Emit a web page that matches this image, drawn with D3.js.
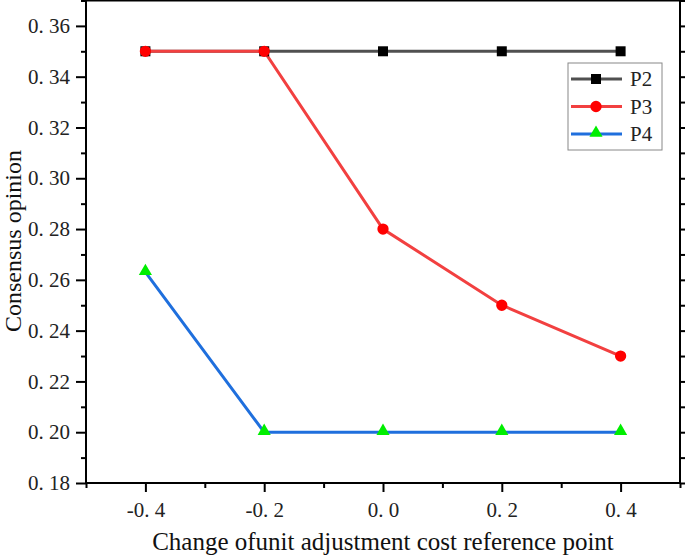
<!DOCTYPE html>
<html><head><meta charset="utf-8">
<script src="https://cdn.jsdelivr.net/npm/d3@7"></script>
<style>body{margin:0;background:#fff}svg{display:block}text{font-family:"Liberation Serif","DejaVu Serif",serif}</style>
</head><body>
<script>
const xValues = [-0.4, -0.2, 0.0, 0.2, 0.4];
const p2 = [0.35, 0.35, 0.35, 0.35, 0.35];
const p3 = [0.35, 0.35, 0.28, 0.25, 0.23];
const p4 = [0.263, 0.20, 0.20, 0.20, 0.20];
const seriesNames = ["P2", "P3", "P4"];
const xTicks = [-0.4, -0.2, 0.0, 0.2, 0.4];
const xTickLabels = ["-0. 4", "-0. 2", "0. 0", "0. 2", "0. 4"];
const yTicks = [0.18, 0.20, 0.22, 0.24, 0.26, 0.28, 0.30, 0.32, 0.34, 0.36];
const yTickLabels = ["0. 18", "0. 20", "0. 22", "0. 24", "0. 26", "0. 28", "0. 30", "0. 32", "0. 34", "0. 36"];
const xTitle = "Change ofunit adjustment cost reference point";
const yTitle = "Consensus opinion";

const W = 685, H = 557;
const L = 86, R = 680, T = 0.5, B = 483;
const x = d3.scaleLinear().domain([-0.5, 0.5]).range([L, R]);
const y = d3.scaleLinear().domain([0.18, 0.37]).range([B, T]);

const svg = d3.select("body").append("svg").attr("width", W).attr("height", H);

const xMinor = d3.range(-0.5, 0.51, 0.1).map(v => +v.toFixed(2)).filter(v => !xTicks.some(t => Math.abs(t - v) < 1e-9));
const yMinor = d3.range(0.19, 0.371, 0.02).map(v => +v.toFixed(2));

const tickStyle = g => { g.select(".domain").remove(); g.selectAll("line").attr("stroke", "#000").attr("stroke-width", 2); };

svg.append("g").attr("transform", `translate(0,${B})`)
  .call(d3.axisBottom(x).tickValues(xMinor).tickSize(5).tickFormat(""))
  .call(tickStyle);
svg.append("g").attr("transform", `translate(0,${B})`)
  .call(d3.axisBottom(x).tickValues(xTicks).tickSize(9).tickPadding(10).tickFormat((d, i) => xTickLabels[i]))
  .call(tickStyle)
  .call(g => g.selectAll("text").attr("font-size", 21).attr("fill", "#222"));

svg.append("g").attr("transform", `translate(${L},0)`)
  .call(d3.axisLeft(y).tickValues(yMinor).tickSize(5).tickFormat(""))
  .call(tickStyle);
svg.append("g").attr("transform", `translate(${L},0)`)
  .call(d3.axisLeft(y).tickValues(yTicks).tickSize(10).tickPadding(6).tickFormat((d, i) => yTickLabels[i]))
  .call(tickStyle)
  .call(g => g.selectAll("text").attr("font-size", 21).attr("fill", "#222"));

svg.append("g").attr("transform", `translate(${R},0)`)
  .call(d3.axisRight(y).tickValues(yTicks.concat(yMinor)).tickSize(6).tickFormat(""))
  .call(tickStyle);

svg.append("rect").attr("x", L).attr("y", T).attr("width", R - L).attr("height", B - T)
  .attr("fill", "none").attr("stroke", "#000").attr("stroke-width", 2);

const series = [
  {name: "P2", vals: p2, line: "#505050", mk: "#000", shape: d3.symbolSquare, size: 100},
  {name: "P3", vals: p3, line: "#f24040", mk: "#ff0000", shape: d3.symbolCircle, size: 100},
  {name: "P4", vals: p4, line: "#1f6fdd", mk: "#00ee00", shape: d3.symbolTriangle, size: 75}
];
const line = d3.line().x((d, i) => x(xValues[i])).y(d => y(d));

series.forEach(s => {
  svg.append("path").datum(s.vals).attr("d", line).attr("fill", "none")
    .attr("stroke", s.line).attr("stroke-width", 3);
});
series.forEach(s => {
  svg.selectAll(null).data(s.vals).enter().append("path")
    .attr("d", d3.symbol().type(s.shape).size(s.size))
    .attr("transform", (d, i) => `translate(${x(xValues[i])},${y(d) + (s.shape === d3.symbolTriangle ? -1 : 0)})`)
    .attr("fill", s.mk);
});

const lg = svg.append("g");
lg.append("rect").attr("x", 568).attr("y", 63).attr("width", 94).attr("height", 87)
  .attr("fill", "#fff").attr("stroke", "#888").attr("stroke-width", 1);
series.forEach((s, i) => {
  const yy = 79 + i * 27.5;
  lg.append("line").attr("x1", 571).attr("x2", 622).attr("y1", yy).attr("y2", yy)
    .attr("stroke", s.line).attr("stroke-width", 3);
  lg.append("path").attr("d", d3.symbol().type(s.shape).size(s.size))
    .attr("transform", `translate(596,${yy + (s.shape === d3.symbolTriangle ? -1 : 0)})`).attr("fill", s.mk);
  lg.append("text").attr("x", 630).attr("y", yy + 7).attr("font-size", 21).attr("fill", "#222").text(seriesNames[i]);
});

svg.append("text").attr("x", 383).attr("y", 550).attr("text-anchor", "middle")
  .attr("font-size", 25).attr("fill", "#111").text(xTitle);
svg.append("text").attr("transform", `translate(21,241) rotate(-90)`).attr("text-anchor", "middle")
  .attr("font-size", 24).attr("fill", "#111").text(yTitle);
</script>
</body></html>
